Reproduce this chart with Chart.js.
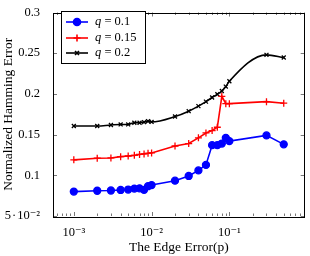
<!DOCTYPE html>
<html>
<head>
<meta charset="utf-8">
<script src="https://cdn.jsdelivr.net/npm/chart.js@4.4.0/dist/chart.umd.min.js"></script>
<style>
html, body { margin: 0; padding: 0; background: #fff; }
#wrap { width: 310px; height: 256px; }
</style>
</head>
<body>
<div id="wrap"><canvas id="hammingChart"></canvas></div>
<script>
// edge error p (x axis, log scale)
const edgeErrors = [0.001, 0.002, 0.003, 0.004, 0.005, 0.006, 0.007, 0.008, 0.009, 0.01,
	0.02, 0.03, 0.04, 0.05, 0.06, 0.07, 0.08, 0.09, 0.1, 0.3, 0.5];

// normalized hamming error, one list per q
const errQ10 = [0.080, 0.081, 0.0813, 0.082, 0.0825, 0.0837, 0.084, 0.0822, 0.0866, 0.088,
	0.0934, 0.0992, 0.106, 0.1128, 0.137, 0.137, 0.139, 0.146, 0.142, 0.149, 0.138];
const errQ15 = [0.119, 0.121, 0.1213, 0.1229, 0.1237, 0.1245, 0.1256, 0.1263, 0.127, 0.1275,
	0.136, 0.139, 0.146, 0.152, 0.155, 0.159, 0.197, 0.188, 0.188, 0.1905, 0.1886];
const errQ20 = [0.1605, 0.1605, 0.1618, 0.1625, 0.1625, 0.1645, 0.1645, 0.1653, 0.1664, 0.1656,
	0.1722, 0.1788, 0.185, 0.1905, 0.1956, 0.1995, 0.2035, 0.209, 0.2155, 0.248, 0.2447];

const qValues = ["0.1", "0.15", "0.2"];

const yTicks = [0.05, 0.1, 0.15, 0.2, 0.25, 0.3];
const yTickLabels = ["5\u200A·\u200A10⁻²", "0.1", "0.15", "0.2", "0.25", "0.3"];
const xTicks = [0.001, 0.01, 0.1];
const xTickLabels = ["10⁻³", "10⁻²", "10⁻¹"];

const SERIF = "'Liberation Serif', 'DejaVu Serif', serif";

// pgfplots style: inward ticks on all four sides plus the frame
const axisFrame = {
	id: "axisFrame",
	afterDatasetsDraw(chart) {
		const ctx = chart.ctx;
		const { left, right, top, bottom } = chart.chartArea;
		const xs = chart.scales.x;
		const ys = chart.scales.y;
		ctx.save();
		ctx.lineWidth = 0.8;
		ctx.strokeStyle = "#555";
		ctx.beginPath();
		// minor x ticks
		for (let e = -4; e <= 0; e++) {
			for (let m = 1; m <= 9; m++) {
				const v = m * Math.pow(10, e);
				if (v < xs.min || v > xs.max) continue;
				const px = Math.round(xs.getPixelForValue(v)) + 0.5;
				const len = m === 1 ? 4 : 2.5;
				ctx.moveTo(px, bottom);
				ctx.lineTo(px, bottom - len);
				ctx.moveTo(px, top);
				ctx.lineTo(px, top + len);
			}
		}
		for (const v of yTicks) {
			const py = Math.round(ys.getPixelForValue(v)) + 0.5;
			ctx.moveTo(left, py);
			ctx.lineTo(left + 4, py);
			ctx.moveTo(right, py);
			ctx.lineTo(right - 4, py);
		}
		ctx.stroke();
		ctx.strokeStyle = "#000";
		ctx.lineWidth = 1;
		ctx.strokeRect(Math.round(left) + 0.5, Math.round(top) + 0.5,
			Math.round(right - left) - 1, Math.round(bottom - top));
		ctx.restore();
	}
};

// legend box inside the plot, top left
const insideLegend = {
	id: "insideLegend",
	afterDraw(chart) {
		const ctx = chart.ctx;
		const bx = 61.5, by = 11.5, bw = 84, bh = 52;
		ctx.save();
		ctx.fillStyle = "#fff";
		ctx.fillRect(bx, by, bw, bh);
		ctx.strokeStyle = "#000";
		ctx.lineWidth = 1;
		ctx.strokeRect(bx, by, bw, bh);
		const rowY = [22, 38, 53];
		chart.data.datasets.forEach((ds, i) => {
			const y = rowY[i];
			ctx.strokeStyle = ds.borderColor;
			ctx.lineWidth = ds.borderWidth;
			ctx.beginPath();
			ctx.moveTo(66, y);
			ctx.lineTo(88, y);
			ctx.stroke();
			Chart.helpers.drawPoint(ctx, {
				pointStyle: ds.pointStyle,
				radius: ds.pointRadius,
				borderWidth: ds.pointBorderWidth
			}, 77, y);
			if (ds.pointStyle === "circle") {
				ctx.fillStyle = ds.borderColor;
				ctx.beginPath();
				ctx.arc(77, y, ds.pointRadius, 0, Math.PI * 2);
				ctx.fill();
			}
			ctx.fillStyle = "#000";
			ctx.textBaseline = "middle";
			ctx.font = "italic 12.5px " + SERIF;
			ctx.fillText("q", 95, y);
			const qw = ctx.measureText("q").width;
			ctx.font = "12.5px " + SERIF;
			ctx.fillText(" = " + qValues[i], 95 + qw, y);
		});
		ctx.restore();
	}
};

function makeSeries(values, color, style, radius) {
	return {
		label: "",
		data: edgeErrors.map((p, i) => ({ x: p, y: values[i] })),
		borderColor: color,
		backgroundColor: color,
		pointBackgroundColor: color,
		pointBorderColor: color,
		borderWidth: 1.6,
		pointStyle: style,
		pointRadius: radius,
		pointBorderWidth: 1.3,
		tension: 0
	};
}

const datasets = [
	makeSeries(errQ10, "#0000ff", "circle", 3.5),
	makeSeries(errQ15, "#ff0000", "cross", 3.5),
	makeSeries(errQ20, "#000000", "crossRot", 2.8)
];
datasets[2].cubicInterpolationMode = "monotone";
datasets.forEach((ds, i) => { ds.label = "q = " + qValues[i]; });

new Chart(document.getElementById("hammingChart"), {
	type: "line",
	data: { datasets: datasets },
	options: {
		responsive: true,
		maintainAspectRatio: false,
		animation: false,
		devicePixelRatio: 1,
		layout: { padding: { top: 5, right: 1, left: 0, bottom: 0 } },
		plugins: {
			legend: { display: false },
			tooltip: { enabled: false }
		},
		scales: {
			x: {
				type: "logarithmic",
				min: 5.4e-4,
				max: 0.93,
				grid: { display: false },
				border: { display: false },
				afterBuildTicks(scale) {
					scale.ticks = xTicks.map(v => ({ value: v }));
				},
				afterFit(scale) { scale.height = 40; },
				ticks: {
					autoSkip: false,
					maxRotation: 0,
					padding: 1,
					color: "#000",
					font: { family: SERIF, size: 12.5 },
					callback: (v) => {
						const k = xTicks.indexOf(v);
						return k >= 0 ? xTickLabels[k] : "";
					}
				},
				title: {
					display: true,
					text: "The Edge Error(p)",
					color: "#000",
					font: { family: SERIF, size: 13.5 },
					padding: { top: 0, bottom: 0 }
				}
			},
			y: {
				min: 0.05,
				max: 0.3,
				grid: { display: false },
				border: { display: false },
				afterBuildTicks(scale) {
					scale.ticks = yTicks.map(v => ({ value: v }));
				},
				afterFit(scale) { scale.width = 53; },
				ticks: {
					autoSkip: false,
					padding: 5,
					color: "#000",
					font: { family: SERIF, size: 12.5 },
					callback: (v) => {
						const k = yTicks.findIndex(t => Math.abs(t - v) < 1e-9);
						return k >= 0 ? yTickLabels[k] : "";
					}
				},
				title: {
					display: true,
					text: "Normalized Hamming Error",
					color: "#000",
					font: { family: SERIF, size: 13.5 },
					padding: { top: 0, bottom: 0 }
				}
			}
		}
	},
	plugins: [axisFrame, insideLegend]
});
</script>
</body>
</html>
